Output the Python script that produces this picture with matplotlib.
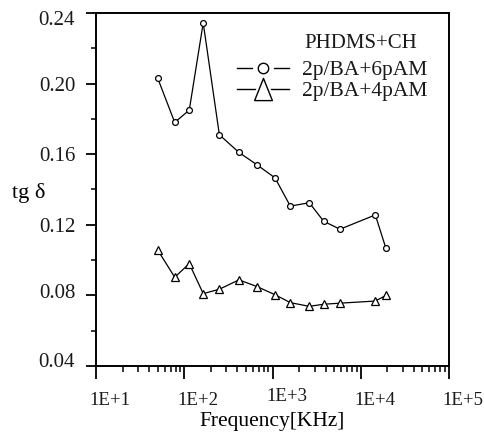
import numpy as np
import matplotlib.pyplot as plt
import matplotlib.transforms as mtransforms
from matplotlib.lines import Line2D
from matplotlib.ticker import FixedLocator, LogLocator, NullFormatter

plt.rcParams['font.family'] = ['Liberation Serif', 'DejaVu Serif']
plt.rcParams['text.color'] = '#1a1a1a'

freq = [50, 78, 114, 164, 250, 417, 667, 1067, 1592, 2612, 3802, 5821, 14630, 19300]
tg_6pam = [0.2031, 0.178, 0.185, 0.2344, 0.171, 0.161, 0.154, 0.1466, 0.1306, 0.1325,
           0.122, 0.1175, 0.1256, 0.1066]
tg_4pam = [0.1057, 0.0903, 0.098, 0.081, 0.0835, 0.0888, 0.085, 0.0804, 0.0759, 0.0738,
           0.075, 0.0756, 0.0768, 0.080]
xticks = [10, 100, 1000, 10000, 100000]
xticklabels = ['1E+1', '1E+2', '1E+3', '1E+4', '1E+5']
yticks = [0.04, 0.08, 0.12, 0.16, 0.20, 0.24]

fig = plt.figure(figsize=(4.84, 4.36), dpi=100)
ax = fig.add_axes([96 / 484, 1 - 366 / 436, 353 / 484, 353 / 436])

ax.plot(freq, tg_6pam, color='black', lw=0.9, marker='o', ms=4.2,
        mfc='white', mec='black', mew=0.9)
ax.plot(freq, tg_4pam, color='black', lw=0.9, marker='^', ms=6,
        mfc='white', mec='black', mew=0.9)

ax.set_xscale('log')
ax.set_xlim(10, 100000)
ax.set_ylim(0.04, 0.239)
ax.set_xticks(xticks)
ax.set_xticklabels(xticklabels)
ax.xaxis.set_minor_locator(LogLocator(base=10, subs=np.arange(2, 10)))
ax.xaxis.set_minor_formatter(NullFormatter())
ax.set_yticks(yticks)
ax.set_yticklabels(['%.2f' % v for v in yticks])
ax.yaxis.set_minor_locator(FixedLocator(np.arange(0.06, 0.24, 0.04)))

ax.tick_params(axis='x', which='major', direction='out', length=9, width=1.3,
               labelsize=13.5, pad=10, labelcolor='#1a1a1a')
ax.tick_params(axis='x', which='minor', direction='out', length=4.5, width=1.1)
ax.tick_params(axis='y', which='major', direction='out', length=7, width=1.3,
               labelsize=15, pad=8, labelcolor='#1a1a1a')
ax.tick_params(axis='y', which='minor', direction='out', length=3.6, width=1.1)
for s in ax.spines.values():
    s.set_linewidth(1.4)

# tick labels in the original sit a bit off their ticks
for i, lab in enumerate(ax.get_xticklabels()):
    dy = 4 if i == 2 else 0
    lab.set_transform(lab.get_transform() +
                      mtransforms.ScaledTranslation(14 / 100, dy / 100, fig.dpi_scale_trans))
yshift = {0: 6, 1: 4, 5: -5}
for i, lab in enumerate(ax.get_yticklabels()):
    if i in yshift:
        lab.set_transform(lab.get_transform() +
                          mtransforms.ScaledTranslation(0, yshift[i] / 100, fig.dpi_scale_trans))

ax.set_xlabel('Frequency[KHz]', fontsize=15.5, labelpad=2)
ax.set_ylabel('tg δ', fontsize=16, rotation=0, va='center')
ax.yaxis.set_label_coords(-0.19, 0.49)

# tall triangle like the legend key of the original
tri = [(-0.8, -1), (0.8, -1), (0, 1), (-0.8, -1)]
line_only = Line2D([], [], color='black', lw=1.0)
white_o = Line2D([], [], ls='none', marker='o', ms=14, mfc='white', mec='white')
white_t = Line2D([], [], ls='none', marker=tri, ms=16, mfc='white', mec='white', mew=4)
mk_o = Line2D([], [], ls='none', marker='o', ms=7.5, mfc='white', mec='black', mew=1.0)
mk_t = Line2D([], [], ls='none', marker=tri, ms=16, mfc='white', mec='black', mew=1.0)
leg = ax.legend([(line_only, white_o, mk_o), (line_only, white_t, mk_t)],
                ['2p/BA+6pAM', '2p/BA+4pAM'],
                loc='upper left', bbox_to_anchor=(237 / 484, 1 - 60 / 436),
                bbox_transform=fig.transFigure, frameon=False,
                fontsize=15.5, handlelength=2.4, handletextpad=0.6,
                labelspacing=0.05, borderpad=0, borderaxespad=0)
fig.text(361 / 484, 1 - 43 / 436, 'PHDMS+CH', fontsize=15, ha='center', va='center')

fig.savefig('out.png', dpi=100)
